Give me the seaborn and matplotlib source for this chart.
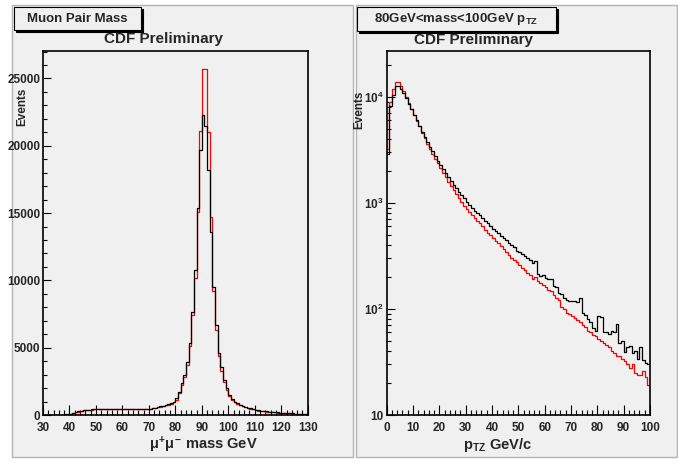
import numpy as np
import pandas as pd
import matplotlib
matplotlib.use("Agg")
import matplotlib.pyplot as plt
import seaborn as sns
from matplotlib.patches import Rectangle
from matplotlib.ticker import MultipleLocator, FixedLocator, LogLocator, NullFormatter

# ---------------- data ----------------
mass_edges = list(range(30, 131))  # 1 GeV bins
mass_data = [15, 15, 18, 20, 22, 25, 28, 32, 38, 45,
             70, 140, 220, 280, 330, 360, 385, 400, 415, 425,
             435, 440, 445, 445, 445, 445, 440, 440, 435, 435,
             430, 430, 430, 430, 430, 435, 440, 445, 455, 465,
             480, 510, 550, 590, 640, 690, 760, 840, 900, 990,
             1240, 1730, 2350, 2970, 3960, 5330, 7680, 10770, 15360, 19690,
             22290, 21490, 18200, 13620, 9530, 6690, 4630, 3590, 2600, 1980,
             1490, 1170, 1000, 910, 770, 690, 620, 540, 490, 450,
             400, 360, 330, 300, 270, 250, 230, 210, 195, 180,
             165, 150, 140, 130, 120, 110, 100, 95, 90, 85]
mass_mc = [10, 10, 12, 14, 16, 18, 20, 24, 30, 38,
           60, 120, 200, 260, 310, 345, 370, 385, 400, 410,
           420, 425, 430, 430, 430, 430, 425, 425, 420, 420,
           415, 415, 415, 415, 415, 420, 425, 430, 440, 450,
           460, 490, 520, 560, 600, 650, 710, 780, 850, 940,
           1150, 1600, 2200, 2800, 3700, 5100, 7400, 10200, 15100, 21100,
           25700, 25700, 21000, 14700, 9200, 6300, 4400, 3300, 2450, 1850,
           1400, 1100, 940, 840, 720, 640, 570, 500, 450, 410,
           370, 330, 300, 280, 250, 230, 210, 195, 180, 165,
           150, 140, 130, 120, 110, 100, 95, 90, 85, 80]

pt_edges = list(range(0, 101))  # 1 GeV/c bins
pt_data = [2900, 8200, 10300, 12700, 12600, 11900, 10800, 9700, 8600, 7600,
           6800, 6000, 5300, 4700, 4150, 3750, 3350, 3050, 2750, 2500,
           2280, 2080, 1900, 1750, 1600, 1480, 1370, 1270, 1180, 1100,
           1020, 950, 890, 840, 800, 760, 720, 680, 640, 600,
           570, 545, 515, 490, 470, 445, 420, 400, 380, 355,
           345, 330, 315, 300, 290, 270, 280, 215, 205, 210,
           195, 190, 190, 165, 160, 140, 138, 128, 122, 120,
           120, 118, 115, 127, 92, 88, 80, 75, 66, 62,
           86, 84, 60, 60, 58, 62, 60, 72, 48, 50,
           39, 44, 45, 38, 40, 34, 44, 33, 31, 30]
pt_mc = [3200, 9000, 11800, 13900, 13800, 12700, 11300, 10000, 8800, 7700,
         6800, 5950, 5250, 4600, 4050, 3600, 3200, 2880, 2600, 2350,
         2120, 1920, 1740, 1580, 1430, 1310, 1200, 1100, 1010, 940,
         880, 820, 770, 720, 680, 640, 600, 560, 525, 495,
         465, 440, 415, 390, 365, 345, 325, 305, 290, 275,
         260, 245, 232, 220, 208, 190, 198, 185, 175, 168,
         160, 150, 148, 135, 128, 122, 105, 100, 92, 90,
         86, 82, 78, 75, 70, 68, 62, 60, 57, 55,
         52, 50, 48, 46, 44, 40, 38, 36, 36, 34,
         32, 30, 28, 30, 25, 24, 24, 26, 23, 19]

mass_ticks = [30, 40, 50, 60, 70, 80, 90, 100, 110, 120, 130]
mass_yticks = [0, 5000, 10000, 15000, 20000, 25000]
pt_ticks = [0, 10, 20, 30, 40, 50, 60, 70, 80, 90, 100]
pt_yticks = [10, 100, 1000, 10000]
pt_yticklabels = ["10", r"$\mathbf{10^{2}}$", r"$\mathbf{10^{3}}$", r"$\mathbf{10^{4}}$"]

# ---------------- style ----------------
W, H = 678, 463
sns.set_style("ticks")
plt.rcParams["font.family"] = ["Liberation Sans", "DejaVu Sans"]
plt.rcParams["font.weight"] = "bold"
plt.rcParams["mathtext.fontset"] = "custom"
plt.rcParams["mathtext.rm"] = "Liberation Sans:bold"
plt.rcParams["mathtext.bf"] = "Liberation Sans:bold"
plt.rcParams["mathtext.it"] = "Liberation Sans:bold"
plt.rcParams["mathtext.sf"] = "Liberation Sans:bold"

PAD = "#f0f0f0"

fig = plt.figure(figsize=(W / 100, H / 100), dpi=100)
fig.patch.set_facecolor("white")


def fx(px):
    return px / W


def fy(py):
    return 1 - py / H


def pad_rect(x0, y0, x1, y1):
    fig.add_artist(Rectangle((fx(x0), fy(y1)), fx(x1) - fx(x0), fy(y0) - fy(y1),
                             transform=fig.transFigure, facecolor=PAD,
                             edgecolor="#b4b4b4", linewidth=1.0, zorder=0))


pad_rect(12, 5, 353, 457)
pad_rect(356, 5, 677, 457)


def title_box(x0, y0, x1, y1, text):
    # shadow
    fig.add_artist(Rectangle((fx(x0 + 2), fy(y1 + 2)), fx(x1) - fx(x0), fy(y0) - fy(y1),
                             transform=fig.transFigure, facecolor="black",
                             edgecolor="black", linewidth=0.8, zorder=1))
    fig.add_artist(Rectangle((fx(x0), fy(y1)), fx(x1) - fx(x0), fy(y0) - fy(y1),
                             transform=fig.transFigure, facecolor=PAD,
                             edgecolor="black", linewidth=0.8, zorder=2))
    fig.text(fx((x0 + x1) / 2), fy((y0 + y1) / 2), text, ha="center", va="center",
             fontsize=9.5, fontweight="bold", zorder=3)


title_box(14, 7, 141, 30, "Muon Pair Mass")
title_box(357, 7, 556, 31, r"80GeV<mass<100GeV p$_{\mathbf{TZ}}$")

fig.text(fx(163), fy(39), "CDF Preliminary", ha="center", va="center",
         fontsize=11, fontweight="bold")
fig.text(fx(474), fy(40), "CDF Preliminary", ha="center", va="center",
         fontsize=11, fontweight="bold")

ax1 = fig.add_axes([fx(43), fy(415), fx(307.7) - fx(43), fy(51) - fy(415)])
ax2 = fig.add_axes([fx(386.7), fy(415), fx(650) - fx(386.7), fy(51) - fy(415)])

mass_centers = [(a + b) / 2 for a, b in zip(mass_edges[:-1], mass_edges[1:])]
pt_centers = [(a + b) / 2 for a, b in zip(pt_edges[:-1], pt_edges[1:])]

df_mass = pd.DataFrame({"m": mass_centers, "data": mass_data, "mc": mass_mc})
df_pt = pd.DataFrame({"pt": pt_centers, "data": pt_data, "mc": pt_mc})

for ax in (ax1, ax2):
    ax.set_facecolor(PAD)
    for s in ax.spines.values():
        s.set_visible(True)
        s.set_color("black")
        s.set_linewidth(1.2)

sns.histplot(data=df_mass, x="m", weights="mc", bins=mass_edges, element="step",
             fill=False, color="red", linewidth=0.9, ax=ax1)
sns.histplot(data=df_mass, x="m", weights="data", bins=mass_edges, element="step",
             fill=False, color="black", linewidth=0.9, ax=ax1)

sns.histplot(data=df_pt, x="pt", weights="mc", bins=pt_edges, element="step",
             fill=False, color="red", linewidth=0.9, ax=ax2)
sns.histplot(data=df_pt, x="pt", weights="data", bins=pt_edges, element="step",
             fill=False, color="black", linewidth=0.9, ax=ax2)

# left axes
ax1.set_xlim(30, 130)
ax1.set_ylim(0, 27040)
ax1.xaxis.set_major_locator(FixedLocator(mass_ticks))
ax1.xaxis.set_minor_locator(MultipleLocator(2))
ax1.yaxis.set_major_locator(FixedLocator(mass_yticks))
ax1.yaxis.set_minor_locator(MultipleLocator(1000))
ax1.set_xticklabels([str(t) for t in mass_ticks])
ax1.set_yticklabels([str(t) for t in mass_yticks])

# right axes
ax2.set_yscale("log")
ax2.set_xlim(0, 100)
ax2.set_ylim(10, 27000)
ax2.xaxis.set_major_locator(FixedLocator(pt_ticks))
ax2.xaxis.set_minor_locator(MultipleLocator(2))
ax2.yaxis.set_major_locator(FixedLocator(pt_yticks))
ax2.yaxis.set_minor_locator(LogLocator(base=10, subs=[2, 3, 4, 5, 6, 7, 8, 9]))
ax2.yaxis.set_minor_formatter(NullFormatter())
ax2.set_xticklabels([str(t) for t in pt_ticks])
ax2.set_yticklabels(pt_yticklabels)

for ax in (ax1, ax2):
    ax.tick_params(axis="x", which="major", direction="in", length=7, width=0.8,
                   labelsize=8.5, pad=5, color="black", top=False)
    ax.tick_params(axis="x", which="minor", direction="in", length=3.6, width=0.8,
                   color="black", top=False)
    ax.tick_params(axis="y", which="major", direction="in", length=5.5, width=0.8,
                   labelsize=8.5, pad=2, color="black", right=False)
    ax.tick_params(axis="y", which="minor", direction="in", length=3, width=0.8,
                   color="black", right=False)
    for lab in ax.get_xticklabels() + ax.get_yticklabels():
        lab.set_fontweight("bold")

ax2.tick_params(axis="y", which="major", pad=2.5)

# axis titles
ax1.set_xlabel(r"$\mu^{+}\mu^{-}$ mass GeV", fontsize=10.5, fontweight="bold")
ax1.xaxis.set_label_coords((203 - 43) / 264.7, (415 - 445) / 364)
ax1.xaxis.label.set_va("center")
ax1.set_ylabel("Events", fontsize=8.5, fontweight="bold")
ax1.yaxis.set_label_coords((22 - 43) / 264.7, (415 - 107) / 364)
ax1.yaxis.label.set_va("center")

ax2.set_xlabel(r"p$_{\mathbf{TZ}}$ GeV/c", fontsize=10.5, fontweight="bold")
ax2.xaxis.set_label_coords((498 - 386.7) / 263.3, (415 - 445) / 364)
ax2.xaxis.label.set_va("center")
ax2.set_ylabel("Events", fontsize=8.5, fontweight="bold")
ax2.yaxis.set_label_coords((359 - 386.7) / 263.3, (415 - 110) / 364)
ax2.yaxis.label.set_va("center")

fig.savefig("out.png", dpi=100, facecolor=fig.get_facecolor())
